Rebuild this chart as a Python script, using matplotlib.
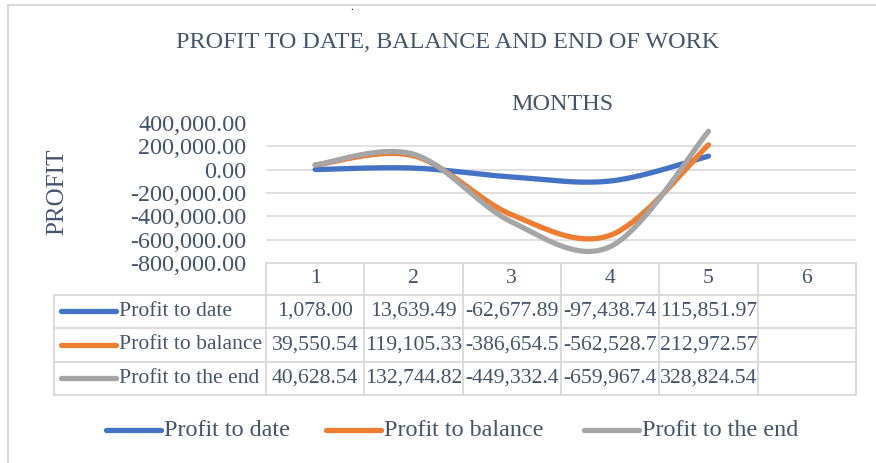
import numpy as np
import matplotlib
matplotlib.use("Agg")
import matplotlib.pyplot as plt

#%% data
months = [1, 2, 3, 4, 5, 6]
series_names = ["Profit to date", "Profit to balance", "Profit to the end"]
profit_to_date = [1078.00, 13639.49, -62677.89, -97438.74, 115851.97]
profit_to_balance = [39550.54, 119105.33, -386654.50, -562528.70, 212972.57]
profit_to_end = [40628.54, 132744.82, -449332.40, -659967.40, 328824.54]
y_ticks = [-800000, -600000, -400000, -200000, 0, 200000, 400000]

colors = ["#4472C4", "#ED7D31", "#A5A5A5"]
text_col = "#44546A"
grid_col = "#D9D9D9"
font = "Liberation Serif"
W, H = 876, 463


def smooth(xs, ys, n=40):
    # catmull-rom, like excel's smoothed line
    xs = np.asarray(xs, float)
    ys = np.asarray(ys, float)
    px = np.concatenate([[xs[0]], xs, [xs[-1]]])
    py = np.concatenate([[ys[0]], ys, [ys[-1]]])
    out_x, out_y = [], []
    for i in range(1, len(px) - 2):
        p0, p1, p2, p3 = [np.array([px[j], py[j]]) for j in range(i - 1, i + 3)]
        c1 = p1 + (p2 - p0) / 6
        c2 = p2 - (p3 - p1) / 6
        t = np.linspace(0, 1, n)[:, None]
        b = (1 - t) ** 3 * p1 + 3 * (1 - t) ** 2 * t * c1 + 3 * (1 - t) * t ** 2 * c2 + t ** 3 * p2
        out_x.extend(b[:, 0])
        out_y.extend(b[:, 1])
    return out_x, out_y


fig = plt.figure(figsize=(W / 100, H / 100), dpi=100)

# pixel canvas for title, table, legend
cv = fig.add_axes([0, 0, 1, 1])
cv.set_xlim(0, W)
cv.set_ylim(H, 0)
cv.axis("off")

# chart border
cv.plot([8, W], [5, 5], color=grid_col, lw=1.5)
cv.plot([8, 8], [5, H], color=grid_col, lw=1.5)
cv.text(352, 10, ".", color="black", fontsize=8, ha="center", va="baseline", family=font)

cv.text(448, 42, "PROFIT TO DATE, BALANCE AND END OF WORK", color=text_col,
        fontsize=17.4, ha="center", va="center", family=font)
cv.text(562, 105, "MONTHS", color=text_col, fontsize=17.4, ha="center", va="center", family=font)
cv.text(57, 192, "PROFIT", color=text_col, fontsize=18, rotation=90,
        ha="center", va="center", family=font)

#%% plot area
left, right, top, bottom = 266, 856, 123, 263
ax = fig.add_axes([left / W, 1 - bottom / H, (right - left) / W, (bottom - top) / H])
ax.patch.set_alpha(0)
ax.set_xlim(months[0] - 0.5, months[-1] + 0.5)
ax.set_ylim(y_ticks[0], y_ticks[-1])
for s in ax.spines.values():
    s.set_visible(False)
ax.hlines(y_ticks[1:-1], months[0] - 0.5, months[-1] + 0.5, color=grid_col, lw=1.2, zorder=0)
ax.set_xticks([])
ax.set_yticks(y_ticks)
ax.set_yticklabels([f"{v:,.2f}" for v in y_ticks], color=text_col, fontsize=17.4, family=font)
ax.tick_params(axis="y", length=0, pad=14)

all_series = [profit_to_date, profit_to_balance, profit_to_end]
for vals, c in zip(all_series, colors):
    sx, sy = smooth(months[:len(vals)], vals)
    ax.plot(sx, sy, color=c, lw=3.8, solid_capstyle="round", clip_on=False)

#%% data table
col_edges = np.linspace(left, right, len(months) + 1)
row_edges = [263, 294.5, 328, 361.5, 395]
tleft = 54
tkw = dict(color=grid_col, lw=1.3)
cv.plot([left, right], [row_edges[0]] * 2, **tkw)
for y in row_edges[1:]:
    cv.plot([tleft, right], [y, y], **tkw)
for x in col_edges:
    cv.plot([x, x], [row_edges[0], row_edges[-1]], **tkw)
cv.plot([tleft, tleft], [row_edges[1], row_edges[-1]], **tkw)

for i, m in enumerate(months):
    cv.text((col_edges[i] + col_edges[i + 1]) / 2, (row_edges[0] + row_edges[1]) / 2, str(m),
            color=text_col, fontsize=15.6, ha="center", va="center", family=font)

for r, (name, vals, c) in enumerate(zip(series_names, all_series, colors)):
    yc = (row_edges[r + 1] + row_edges[r + 2]) / 2
    cv.plot([61, 116], [yc, yc], color=c, lw=3.8, solid_capstyle="round")
    cv.text(119, yc, name, color=text_col, fontsize=15.6, ha="left", va="center", family=font)
    for i, v in enumerate(vals):
        cv.text((col_edges[i] + col_edges[i + 1]) / 2, yc, f"{v:,.2f}"[:10],
                color=text_col, fontsize=15.6, ha="center", va="center", family=font)

#%% legend
leg_x = [106, 326, 584]
for x0, name, c in zip(leg_x, series_names, colors):
    cv.plot([x0, x0 + 55], [430, 430], color=c, lw=3.8, solid_capstyle="round")
    cv.text(x0 + 58, 430, name, color=text_col, fontsize=17.4, ha="left", va="center", family=font)

fig.savefig("out.png", dpi=100)
